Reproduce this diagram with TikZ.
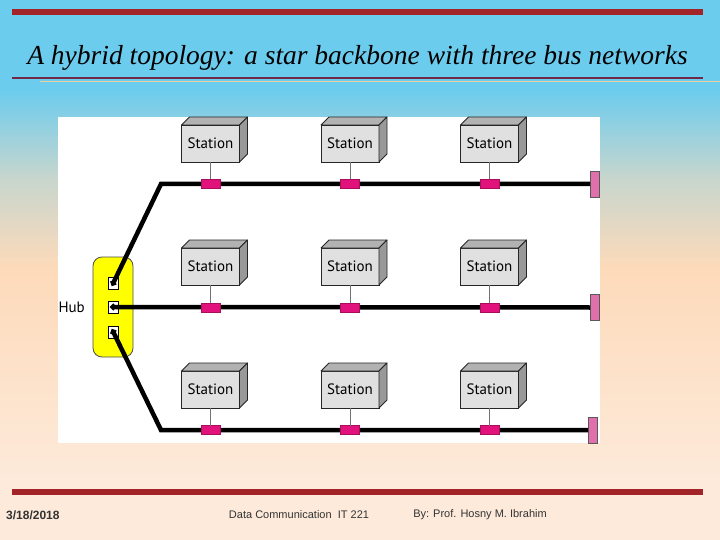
\documentclass[tikz,border=0pt]{standalone}
\usepackage{fontspec}
\setmainfont{Liberation Serif}
\setsansfont{PT Sans}
\newfontfamily\footfont{Liberation Sans}
\usetikzlibrary{arrows.meta, positioning, calc}
\definecolor{skytop}{RGB}{108,204,238}
\definecolor{peachmid}{RGB}{253,218,186}
\definecolor{peachlow}{RGB}{253,234,218}
\definecolor{barred}{RGB}{162,36,40}
\definecolor{titleline}{RGB}{112,42,72}
\definecolor{goldline}{RGB}{222,176,96}
\definecolor{stationgray}{RGB}{224,224,224}
\definecolor{tapmagenta}{RGB}{226,18,124}
\definecolor{termpink}{RGB}{224,112,172}
\definecolor{hubyellow}{RGB}{255,255,0}
\tikzset{
  station/.style={rectangle,draw=black!85,fill=stationgray,line width=0.8pt,
    minimum width=58pt,minimum height=37pt,inner sep=0pt,outer sep=0pt,
    font=\sffamily\fontsize{15}{15}\selectfont},
  boxtop/.style={draw=black!85,fill=gray!60,line width=0.8pt,line join=round},
  boxside/.style={draw=black!85,fill=gray!80,line width=0.8pt,line join=round},
  tapbox/.style={rectangle,draw=tapmagenta!75!black,fill=tapmagenta,line width=0.4pt,
    minimum width=19pt,minimum height=9pt,inner sep=0pt,outer sep=0pt},
  terminator/.style={rectangle,draw=black!65,fill=termpink,line width=0.7pt,
    minimum width=9pt,minimum height=26pt,inner sep=0pt,outer sep=0pt},
  hubbox/.style={rectangle,rounded corners=9pt,draw=black!70,fill=hubyellow,line width=0.8pt,
    minimum width=40pt,minimum height=100pt,inner sep=0pt,outer sep=0pt},
  portbox/.style={rectangle,draw=black,fill=white,line width=0.8pt,
    minimum width=10pt,minimum height=12pt,inner sep=0pt,outer sep=0pt},
  busline/.style={{Circle[length=6pt]}-,shorten <=-3pt,line width=4.5pt,draw=black},
  stemline/.style={draw=black!55,line width=1pt},
  footnote/.style={font=\footfont\fontsize{11}{12}\selectfont,text=black!80,inner sep=0pt}
}

\begin{document}
\begin{tikzpicture}[x=1pt,y=-1pt]
  \useasboundingbox (0,0) rectangle (720,540);
  \fill[skytop] (0,0) rectangle (720,90);
  \shade[top color=skytop,bottom color=peachmid,middle color={rgb,255:red,200;green,214;blue,205}] (0,90) rectangle (720,268);
  \shade[top color=peachmid,bottom color=peachlow] (0,268) rectangle (720,480);
  \fill[peachlow] (0,480) rectangle (720,540);

  \fill[barred] (12,9) rectangle (703,15);
  \node[anchor=base,font=\itshape\fontsize{27.5}{30}\selectfont,inner sep=0pt] (title)
    at (357.5,65) {A hybrid topology: a star backbone with three bus networks};
  \draw[goldline!60,line width=1pt] (40,82) -- (720,82);
  \draw[titleline,line width=1.8pt] (12,78) -- (703,78);

  \fill[white] (58,117) rectangle (600,443);

  \node[hubbox] (hub) at (113,307) {};
  \node[portbox] (p2) at (113.3,307) {};
  \node[portbox, above=12pt of p2] (p1) {};
  \node[portbox, below=13pt of p2] (p3) {};
  \node[left=8pt of hub,inner sep=0pt,font=\sffamily\fontsize{15}{15}\selectfont] (hublbl) {Hub};

  \node[terminator] (term1) at (594.5,184) {};
  \node[terminator] (term2) at (594.5,307.5) {};
  \node[terminator] (term3) at (592.5,430) {};
  \coordinate (bend1) at (161,184);
  \coordinate (bend3) at (161,430);

  \draw[busline] (p1.center) -- (bend1) -- (term1.west);
  \draw[busline] (p2.center) -- (term2.west);
  \draw[busline] (p3.center) -- (bend3) -- (term3.west);

  \foreach \r/\y/\b in {1/143.5/184,2/266.5/307.5,3/389.5/430}{
    \foreach \c/\x in {1/210.5,2/350,3/489.5}{
      \node[station] (st\r\c) at (\x,\y) {Station};
      \draw[boxtop] (st\r\c.north west) -- ++(8pt,8pt) -- ++(58pt,0pt)
        -- (st\r\c.north east) -- cycle;
      \draw[boxside] (st\r\c.north east) -- ++(8pt,8pt) -- ++(0pt,-37pt)
        -- (st\r\c.south east) -- cycle;
      \node[tapbox] (tp\r\c) at (\x,\b) {};
      \draw[stemline] (st\r\c) -- (tp\r\c);
    }
  }

  \fill[barred] (12,489) rectangle (703,495);
  \node[footnote,anchor=west,font=\footfont\bfseries\fontsize{12}{12}\selectfont] (date) at (6,515) {3/18/2018};
  \node[footnote] (course) at (299,515) {Data Communication\ \ IT 221};
  \node[footnote] (author) at (480,515) {By: Prof. Hosny M. Ibrahim};
\end{tikzpicture}
\end{document}
